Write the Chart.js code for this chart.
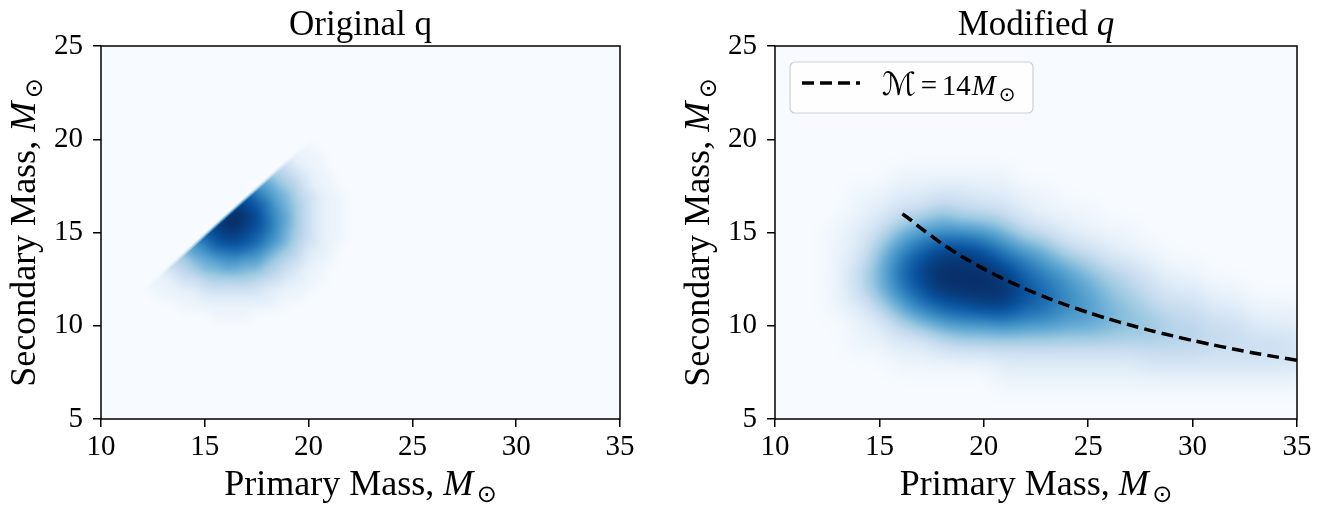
<!DOCTYPE html>
<html><head><meta charset="utf-8">
<script src="https://cdn.jsdelivr.net/npm/chart.js@4.4.1/dist/chart.umd.min.js"></script>
<style>
html,body{margin:0;padding:0;background:#fff;width:1322px;height:505px;overflow:hidden}
canvas{position:absolute;top:0}
#left{left:0}
#right{left:661px}
</style></head><body>
<canvas id="left" width="661" height="505"></canvas>
<canvas id="right" width="661" height="505"></canvas>
<script>
// ---------------- data ----------------
const xTickValues = [10, 15, 20, 25, 30, 35];
const yTickValues = [5, 10, 15, 20, 25];

// Panel 1: "Original q" density grid (cell centres), levels 0..18 as base-36 characters
const origPrimary = [11, 11.5, 12, 12.5, 13, 13.5, 14, 14.5, 15, 15.5, 16, 16.5, 17, 17.5, 18, 18.5, 19, 19.5, 20, 20.5, 21, 21.5, 22];
const origSecondary = [21, 20.5, 20, 19.5, 19, 18.5, 18, 17.5, 17, 16.5, 16, 15.5, 15, 14.5, 14, 13.5, 13, 12.5, 12, 11.5, 11, 10.5, 10];
const origDensity = [
  "00000000000000000000000",
  "00000000000000000000000",
  "00000000000000000000000",
  "00000000000000001110000",
  "00000000000000022111000",
  "00000000000000554211000",
  "00000000000008865421100",
  "000000000000bba86521100",
  "00000000000ffdb98542110",
  "0000000000hhgfda8642110",
  "000000000hhihgdb9642110",
  "00000000hhiihgeb9642110",
  "0000000ffghhgfdb8642110",
  "000000bbdfggfeca8542110",
  "0000088abddedca86522100",
  "000055689abbaa865421100",
  "00022456889988654211000",
  "00111244566665542211000",
  "00011122444444221110000",
  "00001111222222211100000",
  "00000011111111110000000",
  "00000000011110000000000",
  "00000000000000000000000"
];
// sharp upper edge of panel 1 (secondary never exceeds primary)
const origEdgePrimary = [12.5, 20.0];
const origEdgeSecondary = [12.35, 19.85];

// Panel 2: "Modified q" density grid
const modPrimary = [12, 13, 14, 15, 16, 17, 18, 19, 20, 21, 22, 23, 24, 25, 26, 27, 28, 29, 30, 31, 32, 33, 34, 35];
const modSecondary = [19, 18, 17, 16, 15, 14, 13, 12, 11, 10, 9, 8, 7, 6];
const modDensity = [
  "000000000000000000000000",
  "000011111100000000000000",
  "001122332211000000000000",
  "001245755421110000000000",
  "01248abba854211100000000",
  "0127beggfca8542110000000",
  "0148dghhhgdb975421100000",
  "0148cfhhhhfdb97542211000",
  "01259cefggedba8754422111",
  "0012579aabaa998775544222",
  "001122455555555555544443",
  "000011111222222233333333",
  "000000000111111111111111",
  "000000000000000000000000"
];

// Chirp-mass curve  M = 14 Msun
const chirpLabel = "ℳ = 14 M⊙";
const chirpPrimary = [16.1, 16.5, 17, 18, 19, 20, 21, 22, 23, 24, 25, 26, 27, 28, 29, 30, 31, 32, 33, 34, 35];
const chirpSecondary = [16.0, 15.67, 15.22, 14.4, 13.68, 13.05, 12.48, 11.97, 11.51, 11.09, 10.71, 10.36, 10.04, 9.74, 9.47, 9.21, 8.97, 8.74, 8.53, 8.33, 8.15];

// ---------------- styling helpers ----------------
const SERIF = '"Liberation Serif", "DejaVu Serif", serif';
const bluesStops = [[247,251,255],[222,235,247],[198,219,239],[158,202,225],[107,174,214],[66,146,198],[33,113,181],[8,81,156],[8,48,107]];
function blues(t) {
  t = Math.max(0, Math.min(1, t));
  const p = t * 8, i = Math.min(7, Math.floor(p)), f = p - i;
  const a = bluesStops[i], b = bluesStops[i + 1];
  return [a[0] + (b[0] - a[0]) * f, a[1] + (b[1] - a[1]) * f, a[2] + (b[2] - a[2]) * f];
}
function decodeRows(rows) {
  return rows.map(r => r.split('').map(ch => parseInt(ch, 36)));
}
function bsw(t) {
  const t2 = t * t, t3 = t2 * t;
  return [(1 - t) * (1 - t) * (1 - t) / 6, (3 * t3 - 6 * t2 + 4) / 6, (-3 * t3 + 3 * t2 + 3 * t + 1) / 6, t3 / 6];
}
function sampleCells(vals, r, c) {
  const h = vals.length, w = vals[0].length;
  const r0 = Math.floor(r), c0 = Math.floor(c);
  const wr = bsw(r - r0), wc = bsw(c - c0);
  let s = 0;
  for (let i = 0; i < 4; i++) {
    const ri = r0 - 1 + i; if (ri < 0 || ri >= h) continue;
    const row = vals[ri];
    for (let j = 0; j < 4; j++) {
      const cj = c0 - 1 + j; if (cj < 0 || cj >= w) continue;
      s += wr[i] * wc[j] * row[cj];
    }
  }
  return s;
}
function drawRich(ctx, segs, x, y, size, align) {
  const fontOf = s => `${s.italic ? 'italic ' : ''}${Math.round(size * (s.scale || 1))}px ${s.family || SERIF}`;
  let total = 0;
  segs.forEach(s => { ctx.font = fontOf(s); s.w = ctx.measureText(s.t).width; total += s.w + (s.gap || 0) * size; });
  let cx = align === 'center' ? x - total / 2 : x;
  ctx.textBaseline = 'alphabetic'; ctx.textAlign = 'left'; ctx.fillStyle = '#000';
  segs.forEach(s => { ctx.font = fontOf(s); ctx.fillText(s.t, cx, y + (s.dy || 0) * size); cx += s.w + (s.gap || 0) * size; });
}
const msun = () => [{ t: 'M', italic: true, gap: 0.1 }, { t: '⊙', scale: 0.68, dy: 0.2, family: '"DejaVu Sans", sans-serif' }];

const heatPlugin = {
  id: 'heat',
  beforeDatasetsDraw(chart, args, opts) {
    const { ctx, chartArea: a } = chart;
    const xs = chart.scales.x, ys = chart.scales.y;
    const vals = decodeRows(opts.rows);
    const m1 = opts.m1, m2 = opts.m2;
    const dx = m1[1] - m1[0], dy = m2[0] - m2[1];
    const L = Math.round(a.left), T = Math.round(a.top);
    const W = Math.round(a.right) - L, H = Math.round(a.bottom) - T;
    const field = new Float32Array(W * H);
    let edge = null;
    if (opts.edge) {
      const ex0 = xs.getPixelForValue(opts.edge.m1[0]) - L, ey0 = ys.getPixelForValue(opts.edge.m2[0]) - T;
      const ex1 = xs.getPixelForValue(opts.edge.m1[1]) - L, ey1 = ys.getPixelForValue(opts.edge.m2[1]) - T;
      const len = Math.hypot(ex1 - ex0, ey1 - ey0);
      // unit normal pointing to the allowed side (below / right of the edge)
      edge = { ex0, ey0, nx: -(ey1 - ey0) / len, ny: (ex1 - ex0) / len };
    }
    let max = 0;
    for (let py = 0; py < H; py++) {
      const r = (m2[0] - ys.getValueForPixel(T + py + 0.5)) / dy;
      for (let px = 0; px < W; px++) {
        const c = (xs.getValueForPixel(L + px + 0.5) - m1[0]) / dx;
        let v = sampleCells(vals, r, c);
        if (edge) {
          const d = (px + 0.5 - edge.ex0) * edge.nx + (py + 0.5 - edge.ey0) * edge.ny;
          const k = Math.max(0, Math.min(1, (d + 2) / 4));
          v *= k;
        }
        field[py * W + px] = v;
        if (v > max) max = v;
      }
    }
    const img = ctx.createImageData(W, H);
    for (let i = 0; i < W * H; i++) {
      const col = blues(field[i] / max);
      img.data[i * 4] = col[0]; img.data[i * 4 + 1] = col[1]; img.data[i * 4 + 2] = col[2]; img.data[i * 4 + 3] = 255;
    }
    ctx.putImageData(img, L, T);
  }
};
const decorPlugin = {
  id: 'decor',
  afterDatasetsDraw(chart, args, opts) {
    const { ctx, chartArea: a } = chart;
    ctx.save();
    if (opts.legend) {
      const bx = a.left + 15, by = a.top + 16, bw = 243, bh = 51;
      ctx.beginPath(); ctx.roundRect(bx, by, bw, bh, 5);
      ctx.fillStyle = 'rgba(255,255,255,0.8)'; ctx.fill();
      ctx.strokeStyle = '#cfcfcf'; ctx.lineWidth = 1.2; ctx.stroke();
      const ds = chart.data.datasets[0];
      ctx.beginPath(); ctx.setLineDash(ds.borderDash); ctx.lineWidth = ds.borderWidth; ctx.strokeStyle = ds.borderColor;
      ctx.moveTo(a.left + 27, a.top + 37); ctx.lineTo(a.left + 85, a.top + 37); ctx.stroke();
      ctx.setLineDash([]);
      drawRich(ctx, [{ t: 'ℳ', scale: 1.1, family: '"DejaVu Serif", "DejaVu Sans", serif', gap: 0.16 }, { t: '=', gap: 0.16 }, { t: '14', gap: 0.03 }].concat(msun()), a.left + 107, a.top + 49, 29, 'left');
    }
    ctx.lineWidth = 1.5; ctx.strokeStyle = '#000';
    ctx.strokeRect(a.left, a.top, a.right - a.left, a.bottom - a.top);
    ctx.restore();
  },
  afterDraw(chart, args, opts) {
    const { ctx, chartArea: a } = chart;
    const cx = (a.left + a.right) / 2, cy = (a.top + a.bottom) / 2;
    ctx.save();
    drawRich(ctx, opts.title, cx, 35, 35, 'center');
    drawRich(ctx, [{ t: 'Primary Mass, ' }].concat(msun()), cx, 495, 36, 'center');
    ctx.translate(a.left - 66, cy); ctx.rotate(-Math.PI / 2);
    drawRich(ctx, [{ t: 'Secondary Mass, ' }].concat(msun()), 0, 0, 36, 'center');
    ctx.restore();
  }
};

function scalesFor(yWidth) {
  const tickFont = { family: SERIF, size: 29 };
  const grid = { display: true, drawOnChartArea: false, drawTicks: true, tickLength: 8, lineWidth: 1.5, color: '#000' };
  return {
    x: {
      type: 'linear', min: 10, max: 35,
      afterBuildTicks: s => { s.ticks = xTickValues.map(v => ({ value: v })); },
      afterFit: s => { s.height = 86; },
      ticks: { font: tickFont, color: '#000', padding: 3, maxRotation: 0 },
      grid: grid, border: { display: false }
    },
    y: {
      type: 'linear', min: 5, max: 25,
      afterBuildTicks: s => { s.ticks = yTickValues.map(v => ({ value: v })); },
      afterFit: s => { s.width = yWidth; },
      ticks: { font: tickFont, color: '#000', padding: 10 },
      grid: grid, border: { display: false }
    }
  };
}

new Chart(document.getElementById('left'), {
  type: 'scatter',
  data: { datasets: [] },
  options: {
    responsive: false, animation: false, devicePixelRatio: 1,
    layout: { padding: { left: 0, right: 41, top: 46, bottom: 0 } },
    plugins: {
      legend: { display: false }, tooltip: { enabled: false },
      heat: { m1: origPrimary, m2: origSecondary, rows: origDensity, edge: { m1: origEdgePrimary, m2: origEdgeSecondary } },
      decor: { title: [{ t: 'Original q' }], legend: false }
    },
    scales: scalesFor(101)
  },
  plugins: [heatPlugin, decorPlugin]
});

new Chart(document.getElementById('right'), {
  type: 'scatter',
  data: {
    datasets: [{
      label: chirpLabel,
      data: chirpPrimary.map((x, i) => ({ x: x, y: chirpSecondary[i] })),
      showLine: true, borderColor: '#000', borderWidth: 3.5, borderDash: [12, 6],
      pointRadius: 0, tension: 0.3, fill: false
    }]
  },
  options: {
    responsive: false, animation: false, devicePixelRatio: 1,
    layout: { padding: { left: 0, right: 25, top: 46, bottom: 0 } },
    plugins: {
      legend: { display: false }, tooltip: { enabled: false },
      heat: { m1: modPrimary, m2: modSecondary, rows: modDensity },
      decor: { title: [{ t: 'Modified ' }, { t: 'q', italic: true }], legend: true }
    },
    scales: scalesFor(114)
  },
  plugins: [heatPlugin, decorPlugin]
});
</script>
</body></html>
